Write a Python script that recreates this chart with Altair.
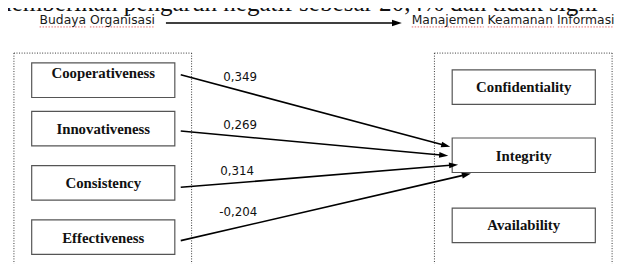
import math
import altair as alt
import pandas as pd

# ---------------- content ----------------
top_text = "memberikan pengaruh negatif sebesar 20,4% dan tidak signi"
header_left = "Budaya Organisasi"
header_right = "Manajemen Keamanan Informasi"
left_nodes = ["Cooperativeness", "Innovativeness", "Consistency", "Effectiveness"]
right_nodes = ["Confidentiality", "Integrity", "Availability"]
coefficients = ["0,349", "0,269", "0,314", "-0,204"]
target_node = "Integrity"

# ---------------- layout (reference pixel coordinates) ----------------
W, H = 620, 257
left_box_x = (32, 177)
right_box_x = (458, 603)
box_height = 35
left_box_top = [62, 111, 166, 221]
right_box_top = [69, 138, 209]
left_label_y = [72, 128.5, 183.5, 239]
right_label_y = [86, 156, 226]
edge_start = [(183, 74), (183, 131), (183, 188), (183, 242)]
edge_tip = [(456, 147), (454, 156), (464, 165), (477, 174)]
coef_pos = [(226, 76), (226, 124.5), (223, 172), (222, 213)]
group_x = [(14, 194), (440, 620)]
group_top = 52

X = alt.Scale(domain=[8, 8 + W], range=[0, W], zero=False, nice=False)
Y = alt.Scale(domain=[8, 8 + H], range=[0, H], zero=False, nice=False)


def xe(f="x"):
    return alt.X(f"{f}:Q", scale=X, axis=None)


def ye(f="y"):
    return alt.Y(f"{f}:Q", scale=Y, axis=None)


# dotted group frames (no bottom edge: they run off the page)
frame_rows = []
for x0, x1 in group_x:
    frame_rows.append(dict(x=x0, x2=x1, y=group_top, y2=group_top))
    frame_rows.append(dict(x=x0, x2=x0, y=group_top, y2=8 + H + 20))
    frame_rows.append(dict(x=x1, x2=x1, y=group_top, y2=8 + H + 20))
frames = alt.Chart(pd.DataFrame(frame_rows)).mark_rule(
    color="#333", strokeWidth=1, strokeDash=[1, 1.6], clip=True
).encode(x=xe(), x2="x2:Q", y=ye(), y2="y2:Q")

# boxes
box_rows = []
for name, top, ly in zip(left_nodes, left_box_top, left_label_y):
    box_rows.append(dict(name=name, x=left_box_x[0], x2=left_box_x[1], y=top,
                         y2=top + box_height, cx=sum(left_box_x) / 2, ly=ly))
for name, top, ly in zip(right_nodes, right_box_top, right_label_y):
    box_rows.append(dict(name=name, x=right_box_x[0], x2=right_box_x[1], y=top,
                         y2=top + box_height, cx=sum(right_box_x) / 2, ly=ly))
boxes_df = pd.DataFrame(box_rows)
boxes = alt.Chart(boxes_df).mark_rect(
    fill="white", stroke="#555", strokeWidth=1.2
).encode(x=xe(), x2="x2:Q", y=ye(), y2="y2:Q")
box_labels = alt.Chart(boxes_df).mark_text(
    font="Liberation Serif", fontWeight="bold", fontSize=15, color="#111",
    align="center", baseline="middle"
).encode(x=xe("cx"), y=ye("ly"), text="name:N")

# edges with arrowheads
ARROW = "M0,0 L-2,-0.65 L-2,0.65 Z"
edge_rows, head_rows = [], []
for (sx, sy), (tx, ty) in zip(edge_start, edge_tip):
    dx, dy = tx - sx, ty - sy
    d = math.hypot(dx, dy)
    ang = math.degrees(math.atan2(dy, dx)) % 360
    edge_rows.append(dict(x=sx, y=sy, x2=tx - 5 * dx / d, y2=ty - 5 * dy / d))
    head_rows.append(dict(x=tx, y=ty, angle=ang))
edges = alt.Chart(pd.DataFrame(edge_rows)).mark_rule(
    color="black", strokeWidth=1.6
).encode(x=xe(), x2="x2:Q", y=ye(), y2="y2:Q")
heads = alt.Chart(pd.DataFrame(head_rows)).mark_point(
    shape=ARROW, filled=True, color="black", opacity=1, size=85, strokeWidth=0
).encode(x=xe(), y=ye(), angle=alt.Angle("angle:Q", scale=None))

coef_df = pd.DataFrame(dict(label=coefficients, x=[p[0] for p in coef_pos],
                            y=[p[1] for p in coef_pos]))
coefs = alt.Chart(coef_df).mark_text(
    font="DejaVu Sans", fontSize=12, color="#111", align="left", baseline="middle"
).encode(x=xe(), y=ye(), text="label:N")

# header row
hdr_df = pd.DataFrame(dict(label=[header_left, header_right], x=[40, 417], y=[22.5, 22.5]))
headers = alt.Chart(hdr_df).mark_text(
    font="DejaVu Sans", fontSize=12.5, color="#1a1a1a", align="left",
    baseline="alphabetic"
).encode(x=xe(), y=ye(), text="label:N")
hdr_arrow = alt.Chart(pd.DataFrame([dict(x=168, x2=401, y=21.5, y2=21.5)])).mark_rule(
    color="black", strokeWidth=1.6
).encode(x=xe(), x2="x2:Q", y=ye(), y2="y2:Q")
hdr_head = alt.Chart(pd.DataFrame([dict(x=407, y=21.5, angle=0)])).mark_point(
    shape=ARROW, filled=True, color="black", opacity=1, size=100, strokeWidth=0
).encode(x=xe(), y=ye(), angle=alt.Angle("angle:Q", scale=None))

# spell-check squiggles under header words
squig_rows = [dict(x=40, x2=87), dict(x=91, x2=157),
              dict(x=417, x2=490), dict(x=494, x2=561), dict(x=565, x2=622)]
for r in squig_rows:
    r["y"] = 25.5
squig = alt.Chart(pd.DataFrame(squig_rows)).mark_rule(
    color="#e04040", strokeWidth=1, strokeDash=[1.5, 1.5], opacity=0.8
).encode(x=xe(), x2="x2:Q", y=ye())

# cut-off line of body text at the very top
top_df = pd.DataFrame(dict(label=[top_text], x=[-8], y=[9]))
top_line = alt.Chart(top_df).mark_text(
    font="Liberation Serif", fontSize=25.4, color="#111", align="left",
    baseline="alphabetic"
).encode(x=xe(), y=ye(), text="label:N")

chart = alt.layer(
    top_line, frames, squig, hdr_arrow, hdr_head, headers,
    boxes, box_labels, edges, heads, coefs
).properties(
    width=W, height=H, padding=0, autosize=alt.AutoSizeParams(type="none"),
    background="white"
).configure_view(stroke=None)

chart.save("out.html", embed_options={"renderer": "svg", "actions": False})
